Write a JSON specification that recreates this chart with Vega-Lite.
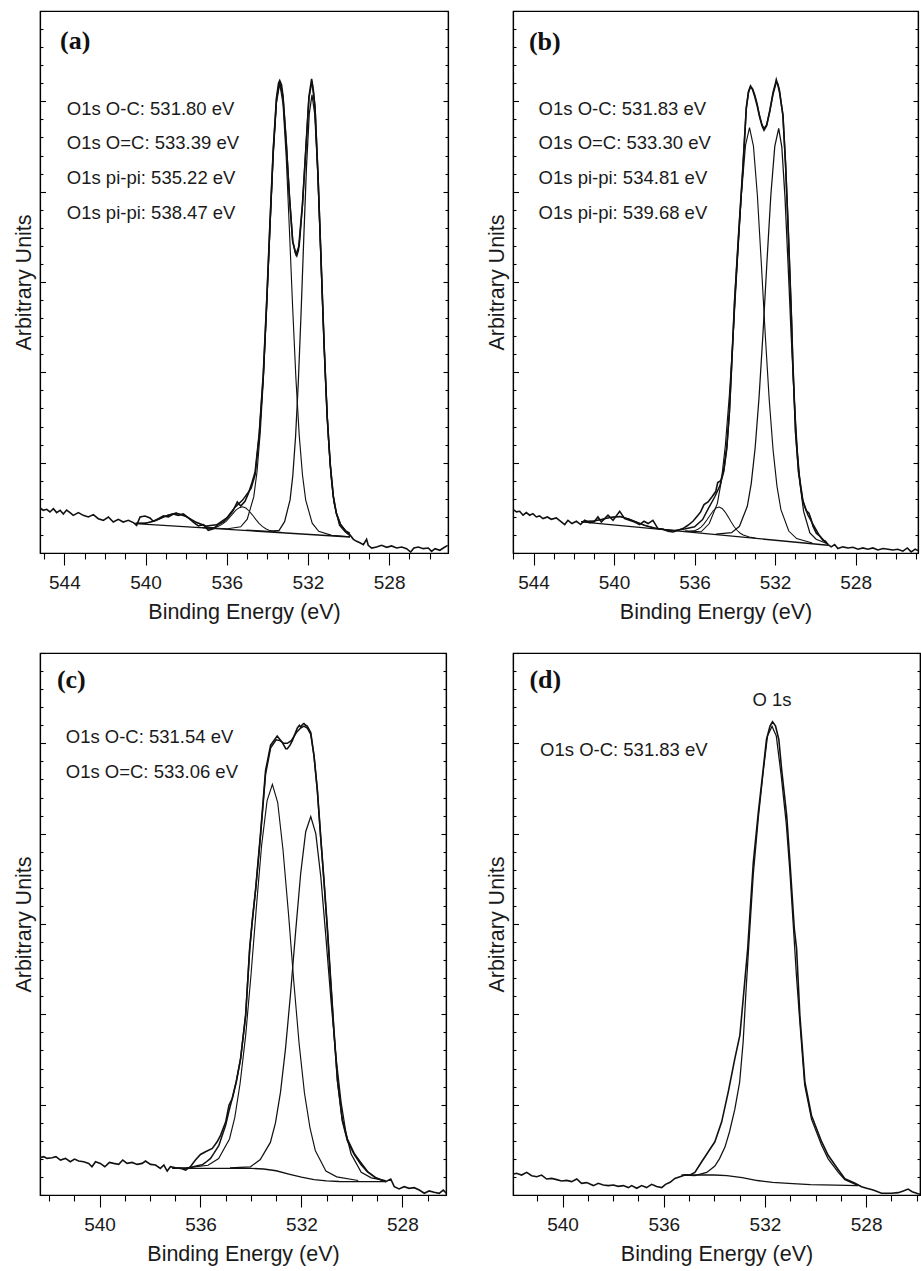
{
"$schema": "https://vega.github.io/schema/vega-lite/v6.json",
"background": "white",
"padding": {"left": 12, "top": 9, "right": 2, "bottom": 0},
"config": {
  "view": {"stroke": "#000", "strokeWidth": 1.2},
  "axis": {"domainColor": "#000", "domainWidth": 1.2, "tickColor": "#000", "tickWidth": 1.1, "grid": false, "labelFont": "Liberation Sans", "titleFont": "Liberation Sans", "labelColor": "#1a1a1a", "titleColor": "#1a1a1a", "titleFontWeight": "normal", "labelFontSize": 19, "titleFontSize": 21.5}
},
"datasets": {
"a": [
{"s":"raw","e":545.20,"y":0.498},{"s":"raw","e":545.04,"y":0.473},{"s":"raw","e":544.87,"y":0.484},{"s":"raw","e":544.71,"y":0.454},{"s":"raw","e":544.54,"y":0.491},{"s":"raw","e":544.38,"y":0.447},{"s":"raw","e":544.21,"y":0.473},{"s":"raw","e":544.05,"y":0.432},{"s":"raw","e":543.89,"y":0.476},{"s":"raw","e":543.72,"y":0.447},{"s":"raw","e":543.56,"y":0.417},{"s":"raw","e":543.31,"y":0.447},{"s":"raw","e":543.07,"y":0.417},{"s":"raw","e":542.82,"y":0.399},{"s":"raw","e":542.57,"y":0.425},{"s":"raw","e":542.33,"y":0.380},{"s":"raw","e":542.08,"y":0.362},{"s":"raw","e":541.83,"y":0.399},{"s":"raw","e":541.59,"y":0.343},{"s":"raw","e":541.34,"y":0.373},{"s":"raw","e":541.10,"y":0.343},{"s":"raw","e":540.85,"y":0.362},{"s":"raw","e":540.60,"y":0.336},{"s":"raw","e":540.44,"y":0.306},{"s":"raw","e":540.27,"y":0.399},{"s":"raw","e":540.03,"y":0.410},{"s":"raw","e":539.78,"y":0.388},{"s":"raw","e":539.62,"y":0.351},{"s":"raw","e":539.37,"y":0.380},{"s":"raw","e":539.12,"y":0.410},{"s":"raw","e":538.88,"y":0.399},{"s":"raw","e":538.63,"y":0.432},{"s":"raw","e":538.39,"y":0.417},{"s":"raw","e":538.14,"y":0.432},{"s":"raw","e":537.89,"y":0.388},{"s":"raw","e":537.65,"y":0.343},{"s":"raw","e":537.40,"y":0.299},{"s":"raw","e":537.15,"y":0.314},{"s":"raw","e":536.91,"y":0.251},{"s":"raw","e":536.66,"y":0.269},{"s":"raw","e":536.42,"y":0.314},{"s":"raw","e":536.17,"y":0.343},{"s":"raw","e":535.92,"y":0.399},{"s":"raw","e":535.68,"y":0.473},{"s":"raw","e":535.48,"y":0.565},{"s":"raw","e":535.31,"y":0.520},{"s":"raw","e":535.10,"y":0.572},{"s":"raw","e":534.94,"y":0.657},{"s":"raw","e":534.77,"y":0.768},{"s":"raw","e":534.60,"y":0.90},{"s":"raw","e":534.40,"y":1.32},{"s":"raw","e":534.20,"y":1.98},{"s":"raw","e":534.03,"y":2.80},{"s":"raw","e":533.87,"y":3.66},{"s":"raw","e":533.71,"y":4.47},{"s":"raw","e":533.55,"y":5.04},{"s":"raw","e":533.45,"y":5.20},{"s":"raw","e":533.39,"y":5.23},{"s":"raw","e":533.30,"y":5.18},{"s":"raw","e":533.23,"y":5.06},{"s":"raw","e":533.07,"y":4.55},{"s":"raw","e":532.91,"y":3.93},{"s":"raw","e":532.75,"y":3.45},{"s":"raw","e":532.62,"y":3.32},{"s":"raw","e":532.55,"y":3.29},{"s":"raw","e":532.47,"y":3.35},{"s":"raw","e":532.27,"y":3.86},{"s":"raw","e":532.11,"y":4.45},{"s":"raw","e":531.95,"y":5.05},{"s":"raw","e":531.82,"y":5.25},{"s":"raw","e":531.72,"y":5.10},{"s":"raw","e":531.65,"y":4.92},{"s":"raw","e":531.50,"y":4.15},{"s":"raw","e":531.35,"y":3.22},{"s":"raw","e":531.20,"y":2.28},{"s":"raw","e":531.05,"y":1.50},{"s":"raw","e":530.90,"y":0.98},{"s":"raw","e":530.75,"y":0.63},{"s":"raw","e":530.60,"y":0.44},{"s":"raw","e":530.40,"y":0.32},{"s":"raw","e":530.15,"y":0.24},{"s":"raw","e":529.93,"y":0.20},{"s":"raw","e":529.76,"y":0.151},{"s":"raw","e":529.60,"y":0.129},{"s":"raw","e":529.44,"y":0.114},{"s":"raw","e":529.27,"y":0.092},{"s":"raw","e":529.11,"y":0.151},{"s":"raw","e":529.03,"y":0.085},{"s":"raw","e":528.86,"y":0.055},{"s":"raw","e":528.62,"y":0.066},{"s":"raw","e":528.37,"y":0.085},{"s":"raw","e":528.12,"y":0.063},{"s":"raw","e":527.88,"y":0.078},{"s":"raw","e":527.63,"y":0.055},{"s":"raw","e":527.38,"y":0.066},{"s":"raw","e":527.14,"y":0.048},{"s":"raw","e":526.94,"y":0.011},{"s":"raw","e":526.78,"y":0.055},{"s":"raw","e":526.56,"y":0.066},{"s":"raw","e":526.32,"y":0.048},{"s":"raw","e":526.07,"y":0.055},{"s":"raw","e":525.91,"y":0.018},{"s":"raw","e":525.74,"y":0.048},{"s":"raw","e":525.50,"y":0.030},{"s":"raw","e":525.33,"y":0.055},{"s":"raw","e":525.12,"y":0.085},
{"s":"env","e":540.5,"y":0.329},{"s":"env","e":540.0,"y":0.330},{"s":"env","e":539.5,"y":0.358},{"s":"env","e":539.0,"y":0.410},{"s":"env","e":538.5,"y":0.443},{"s":"env","e":538.0,"y":0.404},{"s":"env","e":537.5,"y":0.340},{"s":"env","e":537.0,"y":0.298},{"s":"env","e":536.5,"y":0.312},{"s":"env","e":536.0,"y":0.389},{"s":"env","e":535.6,"y":0.505},{"s":"env","e":535.22,"y":0.586},{"s":"env","e":534.8,"y":0.715},{"s":"env","e":534.6,"y":0.868},{"s":"env","e":534.4,"y":1.30},{"s":"env","e":534.2,"y":1.96},{"s":"env","e":534.03,"y":2.78},{"s":"env","e":533.87,"y":3.64},{"s":"env","e":533.71,"y":4.45},{"s":"env","e":533.55,"y":5.02},{"s":"env","e":533.39,"y":5.22},{"s":"env","e":533.23,"y":5.05},{"s":"env","e":533.07,"y":4.55},{"s":"env","e":532.91,"y":3.95},{"s":"env","e":532.75,"y":3.45},{"s":"env","e":532.59,"y":3.31},{"s":"env","e":532.43,"y":3.40},{"s":"env","e":532.27,"y":3.85},{"s":"env","e":532.11,"y":4.44},{"s":"env","e":531.95,"y":5.04},{"s":"env","e":531.80,"y":5.22},{"s":"env","e":531.65,"y":4.93},{"s":"env","e":531.50,"y":4.16},{"s":"env","e":531.35,"y":3.22},{"s":"env","e":531.20,"y":2.28},{"s":"env","e":531.05,"y":1.50},{"s":"env","e":530.90,"y":0.976},{"s":"env","e":530.75,"y":0.628},{"s":"env","e":530.60,"y":0.436},{"s":"env","e":530.40,"y":0.316},{"s":"env","e":530.15,"y":0.249},{"s":"env","e":529.93,"y":0.217},
{"s":"bg","e":540.5,"y":0.325},{"s":"bg","e":529.93,"y":0.177},
{"s":"c1","e":535.04,"y":0.252},{"s":"c1","e":533.96,"y":0.240},{"s":"c1","e":533.42,"y":0.250},{"s":"c1","e":533.15,"y":0.347},{"s":"c1","e":532.88,"y":0.588},{"s":"c1","e":532.745,"y":0.859},{"s":"c1","e":532.61,"y":1.286},{"s":"c1","e":532.475,"y":1.888},{"s":"c1","e":532.34,"y":2.646},{"s":"c1","e":532.205,"y":3.487},{"s":"c1","e":532.07,"y":4.283},{"s":"c1","e":531.935,"y":4.861},{"s":"c1","e":531.80,"y":5.073},{"s":"c1","e":531.665,"y":4.857},{"s":"c1","e":531.53,"y":4.275},{"s":"c1","e":531.395,"y":3.476},{"s":"c1","e":531.26,"y":2.631},{"s":"c1","e":531.125,"y":1.869},{"s":"c1","e":530.99,"y":1.263},{"s":"c1","e":530.855,"y":0.833},{"s":"c1","e":530.72,"y":0.558},{"s":"c1","e":530.45,"y":0.309},{"s":"c1","e":530.18,"y":0.237},{"s":"c1","e":529.93,"y":0.190},
{"s":"c2","e":537.23,"y":0.282},{"s":"c2","e":535.95,"y":0.268},{"s":"c2","e":535.31,"y":0.290},{"s":"c2","e":534.99,"y":0.375},{"s":"c2","e":534.67,"y":0.621},{"s":"c2","e":534.51,"y":0.897},{"s":"c2","e":534.35,"y":1.332},{"s":"c2","e":534.19,"y":1.947},{"s":"c2","e":534.03,"y":2.719},{"s":"c2","e":533.87,"y":3.577},{"s":"c2","e":533.71,"y":4.390},{"s":"c2","e":533.55,"y":4.979},{"s":"c2","e":533.39,"y":5.195},{"s":"c2","e":533.23,"y":4.974},{"s":"c2","e":533.07,"y":4.381},{"s":"c2","e":532.91,"y":3.564},{"s":"c2","e":532.75,"y":2.701},{"s":"c2","e":532.59,"y":1.924},{"s":"c2","e":532.43,"y":1.305},{"s":"c2","e":532.27,"y":0.866},{"s":"c2","e":532.11,"y":0.586},{"s":"c2","e":531.79,"y":0.330},{"s":"c2","e":531.47,"y":0.240},{"s":"c2","e":530.83,"y":0.195},{"s":"c2","e":529.93,"y":0.180},
{"s":"c3","e":537.17,"y":0.279},{"s":"c3","e":536.85,"y":0.278},{"s":"c3","e":536.52,"y":0.285},{"s":"c3","e":536.36,"y":0.301},{"s":"c3","e":536.20,"y":0.322},{"s":"c3","e":536.03,"y":0.351},{"s":"c3","e":535.87,"y":0.390},{"s":"c3","e":535.71,"y":0.433},{"s":"c3","e":535.55,"y":0.474},{"s":"c3","e":535.38,"y":0.502},{"s":"c3","e":535.22,"y":0.511},{"s":"c3","e":535.06,"y":0.498},{"s":"c3","e":534.90,"y":0.465},{"s":"c3","e":534.73,"y":0.420},{"s":"c3","e":534.57,"y":0.372},{"s":"c3","e":534.41,"y":0.329},{"s":"c3","e":534.25,"y":0.295},{"s":"c3","e":534.08,"y":0.269},{"s":"c3","e":533.92,"y":0.253},{"s":"c3","e":533.60,"y":0.235},{"s":"c3","e":533.27,"y":0.226},
{"s":"c4","e":540.47,"y":0.329},{"s":"c4","e":540.07,"y":0.331},{"s":"c4","e":539.67,"y":0.346},{"s":"c4","e":539.27,"y":0.381},{"s":"c4","e":538.87,"y":0.424},{"s":"c4","e":538.47,"y":0.442},{"s":"c4","e":538.07,"y":0.412},{"s":"c4","e":537.67,"y":0.358},{"s":"c4","e":537.27,"y":0.312},{"s":"c4","e":536.87,"y":0.285},{"s":"c4","e":536.47,"y":0.272}
],
"b": [
{"s":"raw","e":545.02,"y":0.484},{"s":"raw","e":544.85,"y":0.455},{"s":"raw","e":544.69,"y":0.462},{"s":"raw","e":544.52,"y":0.418},{"s":"raw","e":544.36,"y":0.447},{"s":"raw","e":544.19,"y":0.418},{"s":"raw","e":544.03,"y":0.436},{"s":"raw","e":543.86,"y":0.399},{"s":"raw","e":543.70,"y":0.410},{"s":"raw","e":543.53,"y":0.381},{"s":"raw","e":543.31,"y":0.399},{"s":"raw","e":543.12,"y":0.373},{"s":"raw","e":542.87,"y":0.388},{"s":"raw","e":542.62,"y":0.344},{"s":"raw","e":542.45,"y":0.315},{"s":"raw","e":542.29,"y":0.362},{"s":"raw","e":542.09,"y":0.326},{"s":"raw","e":541.87,"y":0.351},{"s":"raw","e":541.66,"y":0.315},{"s":"raw","e":541.46,"y":0.362},{"s":"raw","e":541.21,"y":0.336},{"s":"raw","e":541.00,"y":0.344},{"s":"raw","e":540.80,"y":0.399},{"s":"raw","e":540.63,"y":0.344},{"s":"raw","e":540.30,"y":0.418},{"s":"raw","e":540.05,"y":0.362},{"s":"raw","e":539.72,"y":0.462},{"s":"raw","e":539.47,"y":0.381},{"s":"raw","e":539.23,"y":0.362},{"s":"raw","e":538.98,"y":0.344},{"s":"raw","e":538.73,"y":0.315},{"s":"raw","e":538.51,"y":0.351},{"s":"raw","e":538.31,"y":0.326},{"s":"raw","e":538.07,"y":0.362},{"s":"raw","e":537.82,"y":0.270},{"s":"raw","e":537.57,"y":0.263},{"s":"raw","e":537.32,"y":0.241},{"s":"raw","e":537.07,"y":0.233},{"s":"raw","e":536.82,"y":0.252},{"s":"raw","e":536.58,"y":0.270},{"s":"raw","e":536.33,"y":0.307},{"s":"raw","e":536.08,"y":0.351},{"s":"raw","e":535.83,"y":0.418},{"s":"raw","e":535.70,"y":0.455},{"s":"raw","e":535.53,"y":0.536},{"s":"raw","e":535.33,"y":0.565},{"s":"raw","e":535.14,"y":0.620},{"s":"raw","e":534.95,"y":0.68},{"s":"raw","e":534.85,"y":0.78},{"s":"raw","e":534.70,"y":0.80},{"s":"raw","e":534.55,"y":0.92},{"s":"raw","e":534.40,"y":1.18},{"s":"raw","e":534.27,"y":1.57},{"s":"raw","e":534.14,"y":2.17},{"s":"raw","e":534.01,"y":2.80},{"s":"raw","e":533.81,"y":3.54},{"s":"raw","e":533.60,"y":4.27},{"s":"raw","e":533.43,"y":4.93},{"s":"raw","e":533.32,"y":5.11},{"s":"raw","e":533.22,"y":5.17},{"s":"raw","e":533.12,"y":5.13},{"s":"raw","e":533.02,"y":5.06},{"s":"raw","e":532.90,"y":4.96},{"s":"raw","e":532.77,"y":4.83},{"s":"raw","e":532.65,"y":4.73},{"s":"raw","e":532.55,"y":4.68},{"s":"raw","e":532.42,"y":4.73},{"s":"raw","e":532.27,"y":4.89},{"s":"raw","e":532.10,"y":5.10},{"s":"raw","e":531.98,"y":5.20},{"s":"raw","e":531.94,"y":5.24},{"s":"raw","e":531.86,"y":5.18},{"s":"raw","e":531.78,"y":5.10},{"s":"raw","e":531.61,"y":4.85},{"s":"raw","e":531.48,"y":4.31},{"s":"raw","e":531.36,"y":3.66},{"s":"raw","e":531.26,"y":3.06},{"s":"raw","e":531.18,"y":2.56},{"s":"raw","e":531.12,"y":2.12},{"s":"raw","e":530.98,"y":1.34},{"s":"raw","e":530.83,"y":0.90},{"s":"raw","e":530.62,"y":0.58},{"s":"raw","e":530.45,"y":0.47},{"s":"raw","e":530.32,"y":0.44},{"s":"raw","e":530.22,"y":0.38},{"s":"raw","e":530.12,"y":0.30},{"s":"raw","e":529.95,"y":0.22},{"s":"raw","e":529.79,"y":0.19},{"s":"raw","e":529.62,"y":0.14},{"s":"raw","e":529.50,"y":0.13},{"s":"raw","e":529.37,"y":0.093},{"s":"raw","e":529.21,"y":0.068},{"s":"raw","e":529.04,"y":0.093},{"s":"raw","e":528.88,"y":0.049},{"s":"raw","e":528.63,"y":0.068},{"s":"raw","e":528.38,"y":0.056},{"s":"raw","e":528.13,"y":0.064},{"s":"raw","e":527.88,"y":0.042},{"s":"raw","e":527.64,"y":0.056},{"s":"raw","e":527.39,"y":0.042},{"s":"raw","e":527.14,"y":0.056},{"s":"raw","e":526.89,"y":0.034},{"s":"raw","e":526.64,"y":0.049},{"s":"raw","e":526.39,"y":0.042},{"s":"raw","e":526.15,"y":0.034},{"s":"raw","e":525.90,"y":0.042},{"s":"raw","e":525.65,"y":0.020},{"s":"raw","e":525.43,"y":0.056},{"s":"raw","e":525.24,"y":0.012},{"s":"raw","e":525.04,"y":0.042},{"s":"raw","e":524.90,"y":0.027},
{"s":"env","e":541.63,"y":0.347},{"s":"env","e":541.0,"y":0.354},{"s":"env","e":540.5,"y":0.378},{"s":"env","e":540.1,"y":0.397},{"s":"env","e":539.7,"y":0.403},{"s":"env","e":539.3,"y":0.377},{"s":"env","e":538.9,"y":0.344},{"s":"env","e":538.5,"y":0.307},{"s":"env","e":538.0,"y":0.277},{"s":"env","e":537.5,"y":0.260},{"s":"env","e":537.0,"y":0.25},{"s":"env","e":536.5,"y":0.265},{"s":"env","e":536.0,"y":0.29},{"s":"env","e":535.6,"y":0.37},{"s":"env","e":535.3,"y":0.50},{"s":"env","e":535.0,"y":0.62},{"s":"env","e":534.75,"y":0.74},{"s":"env","e":534.55,"y":0.90},{"s":"env","e":534.40,"y":1.15},{"s":"env","e":534.27,"y":1.55},{"s":"env","e":534.14,"y":2.15},{"s":"env","e":534.01,"y":2.78},{"s":"env","e":533.81,"y":3.52},{"s":"env","e":533.60,"y":4.25},{"s":"env","e":533.43,"y":4.92},{"s":"env","e":533.32,"y":5.10},{"s":"env","e":533.22,"y":5.16},{"s":"env","e":533.12,"y":5.14},{"s":"env","e":533.02,"y":5.08},{"s":"env","e":532.90,"y":4.98},{"s":"env","e":532.77,"y":4.84},{"s":"env","e":532.65,"y":4.74},{"s":"env","e":532.55,"y":4.70},{"s":"env","e":532.42,"y":4.74},{"s":"env","e":532.27,"y":4.88},{"s":"env","e":532.10,"y":5.08},{"s":"env","e":531.94,"y":5.21},{"s":"env","e":531.86,"y":5.19},{"s":"env","e":531.78,"y":5.12},{"s":"env","e":531.61,"y":4.84},{"s":"env","e":531.48,"y":4.30},{"s":"env","e":531.36,"y":3.65},{"s":"env","e":531.26,"y":3.05},{"s":"env","e":531.18,"y":2.55},{"s":"env","e":531.12,"y":2.10},{"s":"env","e":530.98,"y":1.32},{"s":"env","e":530.83,"y":0.88},{"s":"env","e":530.62,"y":0.57},{"s":"env","e":530.37,"y":0.42},{"s":"env","e":530.12,"y":0.32},{"s":"env","e":529.79,"y":0.19},{"s":"env","e":529.46,"y":0.11},
{"s":"bg","e":541.63,"y":0.344},{"s":"bg","e":529.37,"y":0.086},
{"s":"c1","e":534.94,"y":0.210},{"s":"c1","e":534.16,"y":0.225},{"s":"c1","e":533.77,"y":0.295},{"s":"c1","e":533.38,"y":0.517},{"s":"c1","e":533.185,"y":0.768},{"s":"c1","e":532.99,"y":1.165},{"s":"c1","e":532.795,"y":1.727},{"s":"c1","e":532.60,"y":2.434},{"s":"c1","e":532.405,"y":3.219},{"s":"c1","e":532.21,"y":3.963},{"s":"c1","e":532.015,"y":4.501},{"s":"c1","e":531.82,"y":4.70},{"s":"c1","e":531.665,"y":4.493},{"s":"c1","e":531.51,"y":3.948},{"s":"c1","e":531.355,"y":3.197},{"s":"c1","e":531.20,"y":2.404},{"s":"c1","e":531.045,"y":1.690},{"s":"c1","e":530.89,"y":1.121},{"s":"c1","e":530.735,"y":0.717},{"s":"c1","e":530.58,"y":0.458},{"s":"c1","e":530.27,"y":0.222},{"s":"c1","e":529.96,"y":0.152},{"s":"c1","e":529.37,"y":0.10},
{"s":"c2","e":536.47,"y":0.245},{"s":"c2","e":535.67,"y":0.235},{"s":"c2","e":535.27,"y":0.326},{"s":"c2","e":534.87,"y":0.547},{"s":"c2","e":534.67,"y":0.796},{"s":"c2","e":534.47,"y":1.192},{"s":"c2","e":534.27,"y":1.751},{"s":"c2","e":534.07,"y":2.455},{"s":"c2","e":533.87,"y":3.236},{"s":"c2","e":533.67,"y":3.976},{"s":"c2","e":533.47,"y":4.512},{"s":"c2","e":533.27,"y":4.71},{"s":"c2","e":533.075,"y":4.504},{"s":"c2","e":532.88,"y":3.960},{"s":"c2","e":532.685,"y":3.211},{"s":"c2","e":532.49,"y":2.422},{"s":"c2","e":532.295,"y":1.709},{"s":"c2","e":532.10,"y":1.142},{"s":"c2","e":531.905,"y":0.738},{"s":"c2","e":531.71,"y":0.480},{"s":"c2","e":531.32,"y":0.243},{"s":"c2","e":530.93,"y":0.160},{"s":"c2","e":530.15,"y":0.11},
{"s":"c3","e":536.58,"y":0.242},{"s":"c3","e":536.28,"y":0.239},{"s":"c3","e":535.98,"y":0.249},{"s":"c3","e":535.83,"y":0.263},{"s":"c3","e":535.68,"y":0.287},{"s":"c3","e":535.53,"y":0.323},{"s":"c3","e":535.38,"y":0.368},{"s":"c3","e":535.23,"y":0.418},{"s":"c3","e":535.08,"y":0.465},{"s":"c3","e":534.93,"y":0.499},{"s":"c3","e":534.78,"y":0.510},{"s":"c3","e":534.63,"y":0.493},{"s":"c3","e":534.48,"y":0.453},{"s":"c3","e":534.33,"y":0.400},{"s":"c3","e":534.18,"y":0.342},{"s":"c3","e":534.03,"y":0.291},{"s":"c3","e":533.88,"y":0.249},{"s":"c3","e":533.73,"y":0.219},{"s":"c3","e":533.58,"y":0.199},{"s":"c3","e":533.28,"y":0.176},{"s":"c3","e":532.98,"y":0.166},
{"s":"c4","e":541.63,"y":0.347},{"s":"c4","e":541.5,"y":0.349},{"s":"c4","e":541.05,"y":0.353},{"s":"c4","e":540.6,"y":0.372},{"s":"c4","e":540.15,"y":0.396},{"s":"c4","e":539.70,"y":0.403},{"s":"c4","e":539.25,"y":0.378},{"s":"c4","e":538.80,"y":0.334},{"s":"c4","e":538.35,"y":0.297},{"s":"c4","e":537.90,"y":0.273},{"s":"c4","e":537.45,"y":0.259}
],
"c": [
{"s":"raw","e":542.36,"y":0.413},{"s":"raw","e":542.21,"y":0.424},{"s":"raw","e":542.08,"y":0.405},{"s":"raw","e":541.88,"y":0.413},{"s":"raw","e":541.73,"y":0.424},{"s":"raw","e":541.55,"y":0.387},{"s":"raw","e":541.35,"y":0.405},{"s":"raw","e":541.16,"y":0.368},{"s":"raw","e":540.99,"y":0.398},{"s":"raw","e":540.83,"y":0.376},{"s":"raw","e":540.63,"y":0.368},{"s":"raw","e":540.43,"y":0.350},{"s":"raw","e":540.30,"y":0.313},{"s":"raw","e":540.16,"y":0.368},{"s":"raw","e":539.97,"y":0.350},{"s":"raw","e":539.79,"y":0.313},{"s":"raw","e":539.61,"y":0.361},{"s":"raw","e":539.44,"y":0.350},{"s":"raw","e":539.24,"y":0.339},{"s":"raw","e":539.08,"y":0.387},{"s":"raw","e":538.91,"y":0.350},{"s":"raw","e":538.71,"y":0.361},{"s":"raw","e":538.51,"y":0.339},{"s":"raw","e":538.31,"y":0.350},{"s":"raw","e":538.18,"y":0.376},{"s":"raw","e":537.98,"y":0.339},{"s":"raw","e":537.78,"y":0.332},{"s":"raw","e":537.59,"y":0.295},{"s":"raw","e":537.45,"y":0.332},{"s":"raw","e":537.32,"y":0.265},{"s":"raw","e":537.19,"y":0.313},{"s":"raw","e":536.99,"y":0.302},{"s":"raw","e":536.79,"y":0.295},{"s":"raw","e":536.59,"y":0.276},{"s":"raw","e":536.40,"y":0.313},{"s":"raw","e":536.20,"y":0.387},{"s":"raw","e":536.00,"y":0.449},{"s":"raw","e":535.80,"y":0.479},{"s":"raw","e":535.53,"y":0.516},{"s":"raw","e":535.34,"y":0.589},{"s":"raw","e":535.20,"y":0.663},{"s":"raw","e":535.00,"y":0.810},{"s":"raw","e":534.87,"y":0.994},{"s":"raw","e":534.74,"y":1.068},{"s":"raw","e":534.58,"y":1.252},{"s":"raw","e":534.41,"y":1.51},{"s":"raw","e":534.21,"y":1.99},{"s":"raw","e":534.05,"y":2.73},{"s":"raw","e":533.95,"y":3.03},{"s":"raw","e":533.81,"y":3.40},{"s":"raw","e":533.62,"y":4.00},{"s":"raw","e":533.42,"y":4.70},{"s":"raw","e":533.22,"y":4.98},{"s":"raw","e":532.96,"y":5.08},{"s":"raw","e":532.76,"y":5.01},{"s":"raw","e":532.62,"y":4.94},{"s":"raw","e":532.56,"y":4.94},{"s":"raw","e":532.45,"y":4.98},{"s":"raw","e":532.36,"y":5.03},{"s":"raw","e":532.16,"y":5.17},{"s":"raw","e":532.08,"y":5.20},{"s":"raw","e":532.03,"y":5.18},{"s":"raw","e":531.95,"y":5.21},{"s":"raw","e":531.90,"y":5.22},{"s":"raw","e":531.83,"y":5.20},{"s":"raw","e":531.77,"y":5.19},{"s":"raw","e":531.63,"y":5.12},{"s":"raw","e":531.50,"y":4.86},{"s":"raw","e":531.37,"y":4.49},{"s":"raw","e":531.24,"y":3.98},{"s":"raw","e":531.10,"y":3.46},{"s":"raw","e":530.97,"y":2.95},{"s":"raw","e":530.84,"y":2.38},{"s":"raw","e":530.71,"y":1.82},{"s":"raw","e":530.57,"y":1.27},{"s":"raw","e":530.38,"y":0.84},{"s":"raw","e":530.18,"y":0.62},{"s":"raw","e":529.91,"y":0.46},{"s":"raw","e":529.65,"y":0.36},{"s":"raw","e":529.38,"y":0.26},{"s":"raw","e":529.05,"y":0.19},{"s":"raw","e":528.66,"y":0.148},{"s":"raw","e":528.46,"y":0.177},{"s":"raw","e":528.32,"y":0.092},{"s":"raw","e":528.13,"y":0.067},{"s":"raw","e":527.93,"y":0.092},{"s":"raw","e":527.73,"y":0.074},{"s":"raw","e":527.53,"y":0.081},{"s":"raw","e":527.33,"y":0.055},{"s":"raw","e":527.13,"y":0.019},{"s":"raw","e":526.94,"y":0.045},{"s":"raw","e":526.74,"y":0.030},{"s":"raw","e":526.54,"y":0.019},{"s":"raw","e":526.38,"y":0.055},{"s":"raw","e":526.26,"y":0.019},
{"s":"env","e":537.12,"y":0.30},{"s":"env","e":536.6,"y":0.30},{"s":"env","e":536.4,"y":0.305},{"s":"env","e":536.13,"y":0.325},{"s":"env","e":535.93,"y":0.335},{"s":"env","e":535.8,"y":0.36},{"s":"env","e":535.6,"y":0.405},{"s":"env","e":535.47,"y":0.46},{"s":"env","e":535.27,"y":0.55},{"s":"env","e":535.0,"y":0.773},{"s":"env","e":534.87,"y":0.93},{"s":"env","e":534.74,"y":1.07},{"s":"env","e":534.58,"y":1.26},{"s":"env","e":534.41,"y":1.51},{"s":"env","e":534.21,"y":1.99},{"s":"env","e":534.05,"y":2.72},{"s":"env","e":533.95,"y":3.02},{"s":"env","e":533.81,"y":3.39},{"s":"env","e":533.62,"y":3.98},{"s":"env","e":533.42,"y":4.66},{"s":"env","e":533.22,"y":4.95},{"s":"env","e":533.0,"y":5.04},{"s":"env","e":532.85,"y":5.03},{"s":"env","e":532.7,"y":5.0},{"s":"env","e":532.56,"y":5.0},{"s":"env","e":532.4,"y":5.03},{"s":"env","e":532.2,"y":5.12},{"s":"env","e":532.03,"y":5.17},{"s":"env","e":531.90,"y":5.19},{"s":"env","e":531.77,"y":5.17},{"s":"env","e":531.63,"y":5.10},{"s":"env","e":531.50,"y":4.86},{"s":"env","e":531.37,"y":4.48},{"s":"env","e":531.24,"y":3.97},{"s":"env","e":531.10,"y":3.45},{"s":"env","e":530.97,"y":2.93},{"s":"env","e":530.84,"y":2.36},{"s":"env","e":530.71,"y":1.80},{"s":"env","e":530.57,"y":1.26},{"s":"env","e":530.38,"y":0.82},{"s":"env","e":530.18,"y":0.60},{"s":"env","e":529.91,"y":0.45},{"s":"env","e":529.65,"y":0.34},{"s":"env","e":529.38,"y":0.255},{"s":"env","e":529.05,"y":0.19},{"s":"env","e":528.66,"y":0.15},
{"s":"bg","e":537.12,"y":0.295},{"s":"bg","e":534.0,"y":0.295},{"s":"bg","e":533.5,"y":0.288},{"s":"bg","e":533.0,"y":0.268},{"s":"bg","e":532.5,"y":0.232},{"s":"bg","e":532.0,"y":0.198},{"s":"bg","e":531.5,"y":0.170},{"s":"bg","e":531.0,"y":0.156},{"s":"bg","e":530.5,"y":0.150},{"s":"bg","e":528.66,"y":0.148},
{"s":"c2","e":536.55,"y":0.30},{"s":"c2","e":535.70,"y":0.33},{"s":"c2","e":535.28,"y":0.404},{"s":"c2","e":534.85,"y":0.620},{"s":"c2","e":534.64,"y":0.859},{"s":"c2","e":534.43,"y":1.234},{"s":"c2","e":534.21,"y":1.764},{"s":"c2","e":534.0,"y":2.430},{"s":"c2","e":533.79,"y":3.167},{"s":"c2","e":533.58,"y":3.863},{"s":"c2","e":533.36,"y":4.365},{"s":"c2","e":533.15,"y":4.545},{"s":"c2","e":532.94,"y":4.345},{"s":"c2","e":532.73,"y":3.822},{"s":"c2","e":532.51,"y":3.107},{"s":"c2","e":532.30,"y":2.354},{"s":"c2","e":532.09,"y":1.673},{"s":"c2","e":531.88,"y":1.130},{"s":"c2","e":531.66,"y":0.744},{"s":"c2","e":531.45,"y":0.493},{"s":"c2","e":531.03,"y":0.266},{"s":"c2","e":530.60,"y":0.201},{"s":"c2","e":529.75,"y":0.160},
{"s":"c1","e":534.83,"y":0.300},{"s":"c1","e":534.03,"y":0.310},{"s":"c1","e":533.63,"y":0.393},{"s":"c1","e":533.23,"y":0.582},{"s":"c1","e":533.03,"y":0.795},{"s":"c1","e":532.83,"y":1.136},{"s":"c1","e":532.63,"y":1.620},{"s":"c1","e":532.43,"y":2.232},{"s":"c1","e":532.23,"y":2.913},{"s":"c1","e":532.03,"y":3.556},{"s":"c1","e":531.83,"y":4.022},{"s":"c1","e":531.63,"y":4.19},{"s":"c1","e":531.43,"y":4.001},{"s":"c1","e":531.23,"y":3.517},{"s":"c1","e":531.03,"y":2.856},{"s":"c1","e":530.83,"y":2.159},{"s":"c1","e":530.63,"y":1.530},{"s":"c1","e":530.43,"y":1.032},{"s":"c1","e":530.23,"y":0.678},{"s":"c1","e":530.03,"y":0.454},{"s":"c1","e":529.63,"y":0.252},{"s":"c1","e":529.23,"y":0.190},{"s":"c1","e":528.66,"y":0.160}
],
"d": [
{"s":"raw","e":541.96,"y":0.229},{"s":"raw","e":541.82,"y":0.240},{"s":"raw","e":541.62,"y":0.221},{"s":"raw","e":541.42,"y":0.251},{"s":"raw","e":541.22,"y":0.214},{"s":"raw","e":541.02,"y":0.203},{"s":"raw","e":540.83,"y":0.221},{"s":"raw","e":540.63,"y":0.177},{"s":"raw","e":540.43,"y":0.184},{"s":"raw","e":540.23,"y":0.170},{"s":"raw","e":540.04,"y":0.155},{"s":"raw","e":539.84,"y":0.162},{"s":"raw","e":539.64,"y":0.148},{"s":"raw","e":539.44,"y":0.177},{"s":"raw","e":539.25,"y":0.129},{"s":"raw","e":539.05,"y":0.137},{"s":"raw","e":538.78,"y":0.104},{"s":"raw","e":538.59,"y":0.129},{"s":"raw","e":538.39,"y":0.111},{"s":"raw","e":538.19,"y":0.104},{"s":"raw","e":537.99,"y":0.111},{"s":"raw","e":537.80,"y":0.096},{"s":"raw","e":537.60,"y":0.104},{"s":"raw","e":537.40,"y":0.082},{"s":"raw","e":537.27,"y":0.104},{"s":"raw","e":537.07,"y":0.074},{"s":"raw","e":536.87,"y":0.104},{"s":"raw","e":536.68,"y":0.082},{"s":"raw","e":536.48,"y":0.118},{"s":"raw","e":536.28,"y":0.093},{"s":"raw","e":536.08,"y":0.082},{"s":"raw","e":535.93,"y":0.118},{"s":"raw","e":535.75,"y":0.140},{"s":"raw","e":535.56,"y":0.184},{"s":"raw","e":535.36,"y":0.203},{"s":"raw","e":535.16,"y":0.221},{"s":"raw","e":534.96,"y":0.221},{"s":"raw","e":534.77,"y":0.251},{"s":"raw","e":534.50,"y":0.368},{"s":"raw","e":534.24,"y":0.479},{"s":"raw","e":533.98,"y":0.589},{"s":"raw","e":533.71,"y":0.810},{"s":"raw","e":533.45,"y":1.142},{"s":"raw","e":533.19,"y":1.51},{"s":"raw","e":532.99,"y":1.77},{"s":"raw","e":532.86,"y":2.17},{"s":"raw","e":532.68,"y":2.73},{"s":"raw","e":532.63,"y":2.95},{"s":"raw","e":532.46,"y":3.68},{"s":"raw","e":532.26,"y":4.24},{"s":"raw","e":532.07,"y":4.71},{"s":"raw","e":531.94,"y":5.04},{"s":"raw","e":531.80,"y":5.19},{"s":"raw","e":531.70,"y":5.24},{"s":"raw","e":531.58,"y":5.19},{"s":"raw","e":531.45,"y":5.04},{"s":"raw","e":531.34,"y":4.71},{"s":"raw","e":531.14,"y":4.20},{"s":"raw","e":531.01,"y":3.68},{"s":"raw","e":530.84,"y":2.95},{"s":"raw","e":530.75,"y":2.73},{"s":"raw","e":530.62,"y":1.99},{"s":"raw","e":530.42,"y":1.25},{"s":"raw","e":530.16,"y":0.88},{"s":"raw","e":529.76,"y":0.59},{"s":"raw","e":529.50,"y":0.44},{"s":"raw","e":529.10,"y":0.28},{"s":"raw","e":528.84,"y":0.18},{"s":"raw","e":528.44,"y":0.13},{"s":"raw","e":528.18,"y":0.092},{"s":"raw","e":527.98,"y":0.074},{"s":"raw","e":527.72,"y":0.055},{"s":"raw","e":527.39,"y":0.019},{"s":"raw","e":527.00,"y":0.019},{"s":"raw","e":526.73,"y":0.026},{"s":"raw","e":526.53,"y":0.044},{"s":"raw","e":526.34,"y":0.066},{"s":"raw","e":526.18,"y":0.037},{"s":"raw","e":526.00,"y":0.019},{"s":"raw","e":525.86,"y":0.008},
{"s":"c1","e":535.2,"y":0.221},{"s":"c1","e":534.77,"y":0.215},{"s":"c1","e":534.3,"y":0.25},{"s":"c1","e":533.98,"y":0.32},{"s":"c1","e":533.8,"y":0.40},{"s":"c1","e":533.58,"y":0.53},{"s":"c1","e":533.4,"y":0.70},{"s":"c1","e":533.19,"y":0.95},{"s":"c1","e":533.0,"y":1.25},{"s":"c1","e":532.86,"y":1.70},{"s":"c1","e":532.75,"y":2.25},{"s":"c1","e":532.63,"y":2.80},{"s":"c1","e":532.46,"y":3.55},{"s":"c1","e":532.26,"y":4.18},{"s":"c1","e":532.07,"y":4.68},{"s":"c1","e":531.9,"y":5.08},{"s":"c1","e":531.72,"y":5.19},{"s":"c1","e":531.55,"y":5.08},{"s":"c1","e":531.36,"y":4.65},{"s":"c1","e":531.16,"y":4.12},{"s":"c1","e":531.02,"y":3.60},{"s":"c1","e":530.86,"y":2.90},{"s":"c1","e":530.76,"y":2.45},{"s":"c1","e":530.63,"y":1.95},{"s":"c1","e":530.43,"y":1.22},{"s":"c1","e":530.16,"y":0.84},{"s":"c1","e":529.76,"y":0.55},{"s":"c1","e":529.5,"y":0.40},{"s":"c1","e":529.1,"y":0.25},{"s":"c1","e":528.84,"y":0.17},{"s":"c1","e":528.44,"y":0.12},{"s":"c1","e":528.31,"y":0.104},
{"s":"bg","e":535.3,"y":0.221},{"s":"bg","e":534.0,"y":0.222},{"s":"bg","e":533.5,"y":0.215},{"s":"bg","e":532.9,"y":0.192},{"s":"bg","e":532.3,"y":0.16},{"s":"bg","e":531.7,"y":0.14},{"s":"bg","e":531.07,"y":0.129},{"s":"bg","e":530.2,"y":0.115},{"s":"bg","e":529.23,"y":0.110},{"s":"bg","e":528.31,"y":0.104}
],
"labels": [
{"p":"a","k":"tag","t":"(a)","e":544.21,"y":5.58},
{"p":"a","k":"t","t":"O1s O-C: 531.80 eV","e":543.88,"y":4.85},
{"p":"a","k":"t","t":"O1s O=C: 533.39 eV","e":543.88,"y":4.47},
{"p":"a","k":"t","t":"O1s pi-pi: 535.22 eV","e":543.88,"y":4.09},
{"p":"a","k":"t","t":"O1s pi-pi: 538.47 eV","e":543.88,"y":3.70},
{"p":"b","k":"tag","t":"(b)","e":544.23,"y":5.57},
{"p":"b","k":"t","t":"O1s O-C: 531.83 eV","e":543.75,"y":4.85},
{"p":"b","k":"t","t":"O1s O=C: 533.30 eV","e":543.75,"y":4.47},
{"p":"b","k":"t","t":"O1s pi-pi: 534.81 eV","e":543.75,"y":4.09},
{"p":"b","k":"t","t":"O1s pi-pi: 539.68 eV","e":543.75,"y":3.70},
{"p":"c","k":"tag","t":"(c)","e":541.69,"y":5.61},
{"p":"c","k":"t","t":"O1s O-C: 531.54 eV","e":541.34,"y":5.00},
{"p":"c","k":"t","t":"O1s O=C: 533.06 eV","e":541.34,"y":4.62},
{"p":"d","k":"tag","t":"(d)","e":541.31,"y":5.61},
{"p":"d","k":"t","t":"O1s O-C: 531.83 eV","e":540.89,"y":4.86},
{"p":"d","k":"t","t":"O 1s","e":532.49,"y":5.41}
]
},
"columns": 2,
"spacing": {"row": 27, "column": 35},
"concat": [
{
 "width": 408, "height": 542,
 "resolve": {"axis": {"y": "independent"}},
 "encoding": {"x": {"field": "e", "type": "quantitative", "scale": {"domain": [525.1, 545.2], "reverse": true, "nice": false, "zero": false},
   "axis": {"title": "Binding Energy (eV)", "values": [526,527,528,529,530,531,532,533,534,535,536,537,538,539,540,541,542,543,544,545], "tickSize": {"condition": {"test": "datum.value % 4 === 0", "value": 12}, "value": 6}, "labelExpr": "datum.value % 4 === 0 ? datum.label : ''", "labelPadding": 8, "titlePadding": 9}}},
 "layer": [
  {"data": {"name": "a"}, "mark": {"type": "line", "clip": true},
   "encoding": {"y": {"field": "y", "type": "quantitative", "scale": {"domain": [0, 6], "nice": false, "zero": false},
      "axis": {"orient": "left", "title": "Arbitrary Units", "labels": false, "titlePadding": 4, "values": [0,0.2,0.4,0.6,0.8,1,1.2,1.4,1.6,1.8,2,2.2,2.4,2.6,2.8,3,3.2,3.4,3.6,3.8,4,4.2,4.4,4.6,4.8,5,5.2,5.4,5.6,5.8,6], "tickSize": {"condition": {"test": "abs(datum.value - round(datum.value)) < 0.01", "value": -5.5}, "value": -3}}},
     "detail": {"field": "s"},
     "color": {"value": "#111"},
     "strokeWidth": {"field": "s", "type": "nominal", "scale": {"domain": ["raw","env","bg","c1","c2","c3","c4"], "range": [1.6,0.9,1.3,0.9,0.9,0.9,0.9]}, "legend": null}}},
  {"data": {"name": "labels"}, "transform": [{"filter": "datum.p === 'a' && datum.k === 't'"}],
   "mark": {"type": "text", "align": "left", "baseline": "alphabetic", "font": "Liberation Sans", "fontSize": 18.5, "color": "#1a1a1a"},
   "encoding": {"y": {"field": "y", "type": "quantitative", "scale": {"domain": [0, 6], "nice": false, "zero": false},
      "axis": {"orient": "right", "title": null, "labels": false, "values": [0,0.2,0.4,0.6,0.8,1,1.2,1.4,1.6,1.8,2,2.2,2.4,2.6,2.8,3,3.2,3.4,3.6,3.8,4,4.2,4.4,4.6,4.8,5,5.2,5.4,5.6,5.8,6], "tickSize": {"condition": {"test": "abs(datum.value - round(datum.value)) < 0.01", "value": -5}, "value": -3}}},
     "text": {"field": "t"}}},
  {"data": {"name": "labels"}, "transform": [{"filter": "datum.p === 'a' && datum.k === 'tag'"}],
   "mark": {"type": "text", "align": "left", "baseline": "alphabetic", "font": "Liberation Serif", "fontWeight": "bold", "fontSize": 26, "color": "#111"},
   "encoding": {"y": {"field": "y", "type": "quantitative", "scale": {"domain": [0, 6], "nice": false, "zero": false}, "axis": null}, "text": {"field": "t"}}}
 ]
},
{
 "width": 405, "height": 542,
 "resolve": {"axis": {"y": "independent"}},
 "encoding": {"x": {"field": "e", "type": "quantitative", "scale": {"domain": [524.9, 545.02], "reverse": true, "nice": false, "zero": false},
   "axis": {"title": "Binding Energy (eV)", "values": [525,526,527,528,529,530,531,532,533,534,535,536,537,538,539,540,541,542,543,544,545], "tickSize": {"condition": {"test": "datum.value % 4 === 0", "value": 12}, "value": 6}, "labelExpr": "datum.value % 4 === 0 ? datum.label : ''", "labelPadding": 8, "titlePadding": 9}}},
 "layer": [
  {"data": {"name": "b"}, "mark": {"type": "line", "clip": true},
   "encoding": {"y": {"field": "y", "type": "quantitative", "scale": {"domain": [0, 6], "nice": false, "zero": false},
      "axis": {"orient": "left", "title": "Arbitrary Units", "labels": false, "titlePadding": 4, "values": [0,0.2,0.4,0.6,0.8,1,1.2,1.4,1.6,1.8,2,2.2,2.4,2.6,2.8,3,3.2,3.4,3.6,3.8,4,4.2,4.4,4.6,4.8,5,5.2,5.4,5.6,5.8,6], "tickSize": {"condition": {"test": "abs(datum.value - round(datum.value)) < 0.01", "value": -5.5}, "value": -3}}},
     "detail": {"field": "s"},
     "color": {"value": "#111"},
     "strokeWidth": {"field": "s", "type": "nominal", "scale": {"domain": ["raw","env","bg","c1","c2","c3","c4"], "range": [1.6,0.9,1.3,0.9,0.9,0.9,0.9]}, "legend": null}}},
  {"data": {"name": "labels"}, "transform": [{"filter": "datum.p === 'b' && datum.k === 't'"}],
   "mark": {"type": "text", "align": "left", "baseline": "alphabetic", "font": "Liberation Sans", "fontSize": 18.5, "color": "#1a1a1a"},
   "encoding": {"y": {"field": "y", "type": "quantitative", "scale": {"domain": [0, 6], "nice": false, "zero": false},
      "axis": {"orient": "right", "title": null, "labels": false, "values": [0,0.2,0.4,0.6,0.8,1,1.2,1.4,1.6,1.8,2,2.2,2.4,2.6,2.8,3,3.2,3.4,3.6,3.8,4,4.2,4.4,4.6,4.8,5,5.2,5.4,5.6,5.8,6], "tickSize": {"condition": {"test": "abs(datum.value - round(datum.value)) < 0.01", "value": -5}, "value": -3}}},
     "text": {"field": "t"}}},
  {"data": {"name": "labels"}, "transform": [{"filter": "datum.p === 'b' && datum.k === 'tag'"}],
   "mark": {"type": "text", "align": "left", "baseline": "alphabetic", "font": "Liberation Serif", "fontWeight": "bold", "fontSize": 26, "color": "#111"},
   "encoding": {"y": {"field": "y", "type": "quantitative", "scale": {"domain": [0, 6], "nice": false, "zero": false}, "axis": null}, "text": {"field": "t"}}}
 ]
},
{
 "width": 406, "height": 542,
 "resolve": {"axis": {"y": "independent"}},
 "encoding": {"x": {"field": "e", "type": "quantitative", "scale": {"domain": [526.27, 542.36], "reverse": true, "nice": false, "zero": false},
   "axis": {"title": "Binding Energy (eV)", "values": [527,528,529,530,531,532,533,534,535,536,537,538,539,540,541,542], "tickSize": {"condition": {"test": "datum.value % 4 === 0", "value": 12}, "value": 6}, "labelExpr": "datum.value % 4 === 0 ? datum.label : ''", "labelPadding": 8, "titlePadding": 9}}},
 "layer": [
  {"data": {"name": "c"}, "mark": {"type": "line", "clip": true},
   "encoding": {"y": {"field": "y", "type": "quantitative", "scale": {"domain": [0, 6], "nice": false, "zero": false},
      "axis": {"orient": "left", "title": "Arbitrary Units", "labels": false, "titlePadding": 4, "values": [0,0.2,0.4,0.6,0.8,1,1.2,1.4,1.6,1.8,2,2.2,2.4,2.6,2.8,3,3.2,3.4,3.6,3.8,4,4.2,4.4,4.6,4.8,5,5.2,5.4,5.6,5.8,6], "tickSize": {"condition": {"test": "abs(datum.value - round(datum.value)) < 0.01", "value": -5.5}, "value": -3}}},
     "detail": {"field": "s"},
     "color": {"value": "#111"},
     "strokeWidth": {"field": "s", "type": "nominal", "scale": {"domain": ["raw","env","bg","c1","c2","c3","c4"], "range": [1.6,0.9,1.3,0.9,0.9,0.9,0.9]}, "legend": null}}},
  {"data": {"name": "labels"}, "transform": [{"filter": "datum.p === 'c' && datum.k === 't'"}],
   "mark": {"type": "text", "align": "left", "baseline": "alphabetic", "font": "Liberation Sans", "fontSize": 18.5, "color": "#1a1a1a"},
   "encoding": {"y": {"field": "y", "type": "quantitative", "scale": {"domain": [0, 6], "nice": false, "zero": false},
      "axis": {"orient": "right", "title": null, "labels": false, "values": [0,0.2,0.4,0.6,0.8,1,1.2,1.4,1.6,1.8,2,2.2,2.4,2.6,2.8,3,3.2,3.4,3.6,3.8,4,4.2,4.4,4.6,4.8,5,5.2,5.4,5.6,5.8,6], "tickSize": {"condition": {"test": "abs(datum.value - round(datum.value)) < 0.01", "value": -5}, "value": -3}}},
     "text": {"field": "t"}}},
  {"data": {"name": "labels"}, "transform": [{"filter": "datum.p === 'c' && datum.k === 'tag'"}],
   "mark": {"type": "text", "align": "left", "baseline": "alphabetic", "font": "Liberation Serif", "fontWeight": "bold", "fontSize": 26, "color": "#111"},
   "encoding": {"y": {"field": "y", "type": "quantitative", "scale": {"domain": [0, 6], "nice": false, "zero": false}, "axis": null}, "text": {"field": "t"}}}
 ]
},
{
 "width": 407, "height": 542,
 "resolve": {"axis": {"y": "independent"}},
 "encoding": {"x": {"field": "e", "type": "quantitative", "scale": {"domain": [525.87, 541.96], "reverse": true, "nice": false, "zero": false},
   "axis": {"title": "Binding Energy (eV)", "values": [526,527,528,529,530,531,532,533,534,535,536,537,538,539,540,541], "tickSize": {"condition": {"test": "datum.value % 4 === 0", "value": 12}, "value": 6}, "labelExpr": "datum.value % 4 === 0 ? datum.label : ''", "labelPadding": 8, "titlePadding": 9}}},
 "layer": [
  {"data": {"name": "d"}, "mark": {"type": "line", "clip": true},
   "encoding": {"y": {"field": "y", "type": "quantitative", "scale": {"domain": [0, 6], "nice": false, "zero": false},
      "axis": {"orient": "left", "title": "Arbitrary Units", "labels": false, "titlePadding": 4, "values": [0,0.2,0.4,0.6,0.8,1,1.2,1.4,1.6,1.8,2,2.2,2.4,2.6,2.8,3,3.2,3.4,3.6,3.8,4,4.2,4.4,4.6,4.8,5,5.2,5.4,5.6,5.8,6], "tickSize": {"condition": {"test": "abs(datum.value - round(datum.value)) < 0.01", "value": -5.5}, "value": -3}}},
     "detail": {"field": "s"},
     "color": {"value": "#111"},
     "strokeWidth": {"field": "s", "type": "nominal", "scale": {"domain": ["raw","env","bg","c1","c2","c3","c4"], "range": [1.6,0.9,1.3,0.9,0.9,0.9,0.9]}, "legend": null}}},
  {"data": {"name": "labels"}, "transform": [{"filter": "datum.p === 'd' && datum.k === 't'"}],
   "mark": {"type": "text", "align": "left", "baseline": "alphabetic", "font": "Liberation Sans", "fontSize": 18.5, "color": "#1a1a1a"},
   "encoding": {"y": {"field": "y", "type": "quantitative", "scale": {"domain": [0, 6], "nice": false, "zero": false},
      "axis": {"orient": "right", "title": null, "labels": false, "values": [0,0.2,0.4,0.6,0.8,1,1.2,1.4,1.6,1.8,2,2.2,2.4,2.6,2.8,3,3.2,3.4,3.6,3.8,4,4.2,4.4,4.6,4.8,5,5.2,5.4,5.6,5.8,6], "tickSize": {"condition": {"test": "abs(datum.value - round(datum.value)) < 0.01", "value": -5}, "value": -3}}},
     "text": {"field": "t"}}},
  {"data": {"name": "labels"}, "transform": [{"filter": "datum.p === 'd' && datum.k === 'tag'"}],
   "mark": {"type": "text", "align": "left", "baseline": "alphabetic", "font": "Liberation Serif", "fontWeight": "bold", "fontSize": 26, "color": "#111"},
   "encoding": {"y": {"field": "y", "type": "quantitative", "scale": {"domain": [0, 6], "nice": false, "zero": false}, "axis": null}, "text": {"field": "t"}}}
 ]
}
]
}
